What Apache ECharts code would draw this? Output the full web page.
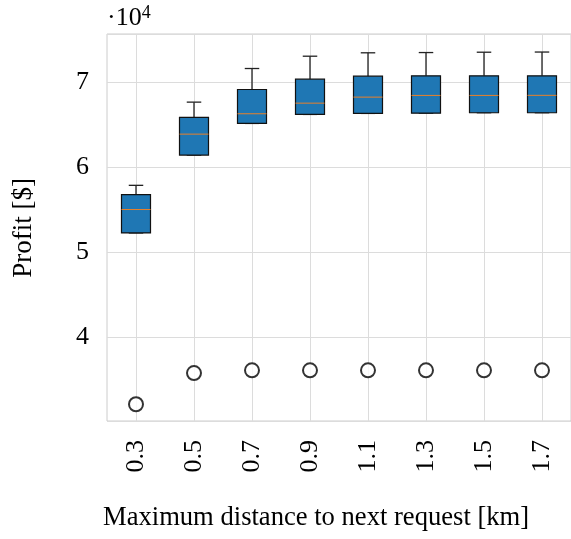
<!DOCTYPE html>
<html>
<head>
<meta charset="utf-8">
<script src="https://cdn.jsdelivr.net/npm/echarts@6/dist/echarts.min.js"></script>
<style>
html,body{margin:0;padding:0;background:#fff;}
#chart{width:571px;height:539px;}
</style>
</head>
<body>
<div id="chart"></div>
<script>
const categories = ['0.3','0.5','0.7','0.9','1.1','1.3','1.5','1.7'];
const whiskerLow = [52240, 61410, 65140, 66200, 66320, 66350, 66400, 66400];
const q1Values   = [52240, 61410, 65140, 66200, 66320, 66350, 66400, 66400];
const medians    = [55000, 63880, 66280, 67530, 68240, 68440, 68440, 68450];
const q3Values   = [56750, 65850, 69140, 70350, 70710, 70750, 70750, 70750];
const whiskerHigh= [57850, 67650, 71610, 73060, 73460, 73490, 73530, 73550];
const outliers   = [32060, 35740, 36060, 36060, 36060, 36060, 36060, 36060];
const yTickLabels = ['4','5','6','7'];

const FONT = '"Liberation Serif", "Times New Roman", serif';

const boxData = categories.map((c, i) => [i, whiskerLow[i], q1Values[i], medians[i], q3Values[i], whiskerHigh[i]]);
const outlierData = categories.map((c, i) => [i, outliers[i]]);

const chart = echarts.init(document.getElementById('chart'), null, {renderer: 'canvas'});

function renderBox(params, api) {
  const x = api.value(0);
  const band = api.size([1, 0])[0];
  const bw = band * 0.5;
  const cw = band * 0.25;
  const pLo = api.coord([x, api.value(1)]);
  const pQ1 = api.coord([x, api.value(2)]);
  const pMed = api.coord([x, api.value(3)]);
  const pQ3 = api.coord([x, api.value(4)]);
  const pHi = api.coord([x, api.value(5)]);
  const cx = pQ1[0];
  const wStyle = {stroke: '#222222', lineWidth: 1.3};
  return {
    type: 'group',
    children: [
      {type: 'line', shape: {x1: cx, y1: pQ3[1], x2: cx, y2: pHi[1]}, style: wStyle},
      {type: 'line', shape: {x1: cx, y1: pQ1[1], x2: cx, y2: pLo[1]}, style: wStyle},
      {type: 'line', shape: {x1: cx - cw / 2, y1: pHi[1], x2: cx + cw / 2, y2: pHi[1]}, style: wStyle},
      {type: 'line', shape: {x1: cx - cw / 2, y1: pLo[1], x2: cx + cw / 2, y2: pLo[1]}, style: wStyle},
      {type: 'rect', shape: {x: cx - bw / 2, y: pQ3[1], width: bw, height: pQ1[1] - pQ3[1]},
        style: {fill: '#1f77b4', stroke: '#111111', lineWidth: 1.2}},
      {type: 'line', shape: {x1: cx - bw / 2, y1: pMed[1], x2: cx + bw / 2, y2: pMed[1]},
        style: {stroke: '#e8802a', lineWidth: 1}}
    ]
  };
}

const option = {
  animation: false,
  backgroundColor: '#ffffff',
  grid: {left: 107, right: -2, top: 34, bottom: 118, show: true, borderColor: '#cccccc', borderWidth: 1, backgroundColor: 'transparent'},
  xAxis: {
    type: 'category',
    data: categories,
    boundaryGap: true,
    axisLine: {show: false},
    axisTick: {show: false, alignWithLabel: true},
    splitLine: {show: true, alignWithLabel: true, lineStyle: {color: '#dcdcdc', width: 1}},
    axisLabel: {rotate: 90, margin: 19, color: '#000', fontFamily: FONT, fontSize: 26, interval: 0}
  },
  yAxis: {
    type: 'value',
    min: 30090,
    max: 75675,
    axisLine: {show: false},
    axisTick: {show: false},
    splitLine: {show: true, lineStyle: {color: '#dcdcdc', width: 1}},
    axisLabel: {
      margin: 18, color: '#000', fontFamily: FONT, fontSize: 26,
      formatter: function (v) {
        if (Math.abs(v % 10000) > 1e-6) return '';
        const s = String(v / 10000);
        return yTickLabels.indexOf(s) >= 0 ? s : '';
      }
    }
  },
  graphic: [
    {type: 'text', left: 107, top: 4, style: {
      text: '·10{s|4}', fill: '#000', font: '26px ' + FONT,
      rich: {s: {fontSize: 18, fontFamily: FONT, fill: '#000', verticalAlign: 'top', padding: [0, 0, 10, 0]}}
    }},
    {type: 'text', x: 24, y: 228, rotation: Math.PI / 2, style: {
      text: 'Profit [$]', fill: '#000', font: '27px ' + FONT, align: 'center', verticalAlign: 'middle'
    }},
    {type: 'text', x: 103, y: 518, style: {
      text: 'Maximum distance to next request [km]', fill: '#000', font: '26.6px ' + FONT, align: 'left', verticalAlign: 'middle'
    }}
  ],
  series: [
    {
      type: 'custom',
      renderItem: renderBox,
      data: boxData,
      encode: {x: 0, y: [1, 2, 3, 4, 5]},
      z: 3
    },
    {
      type: 'scatter',
      data: outlierData,
      symbol: 'circle',
      symbolSize: 14,
      itemStyle: {color: '#ffffff', borderColor: '#000000', borderWidth: 2},
      z: 4
    }
  ]
};
chart.setOption(option);
</script>
</body>
</html>
